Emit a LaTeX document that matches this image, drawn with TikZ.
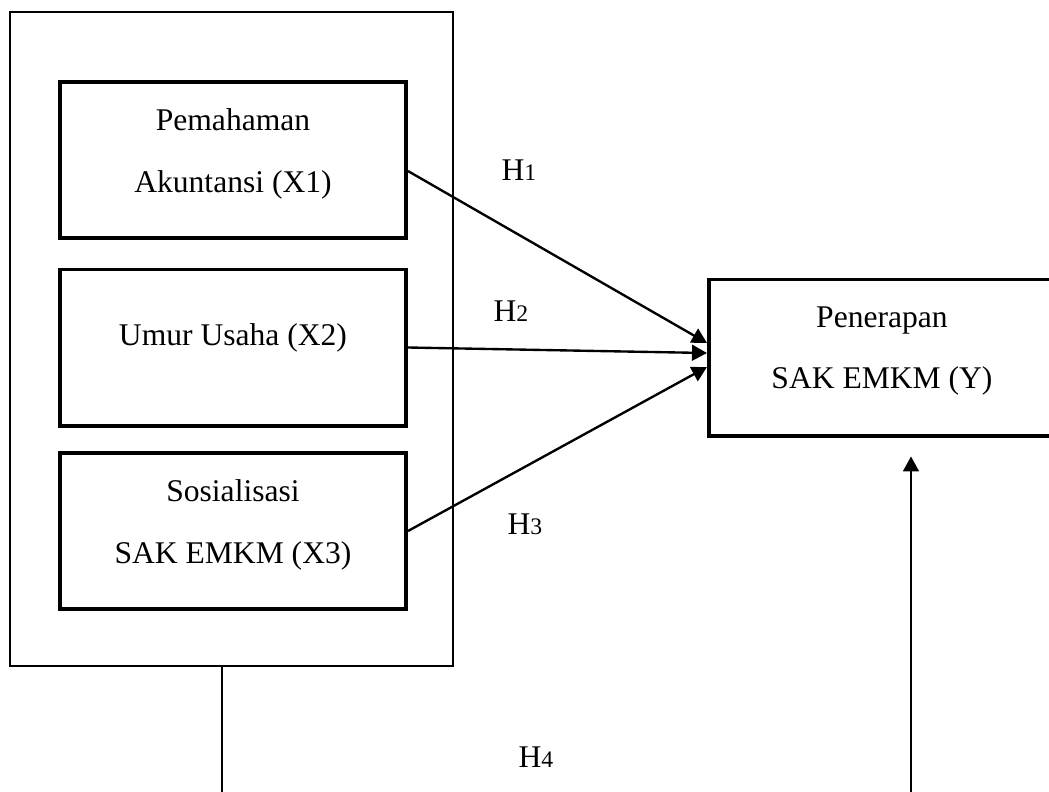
\documentclass[tikz,border=0pt]{standalone}
\usepackage{fontspec}
\setmainfont{Liberation Serif}
\usetikzlibrary{arrows.meta}

\begin{document}
\begin{tikzpicture}[
		x=0.38pt, y=-0.38pt,
		font=\fontsize{12}{23.5}\selectfont,
		grp/.style={rectangle, draw, line width=0.9pt, minimum width=168.3pt, minimum height=248.5pt},
		var/.style={rectangle, draw, line width=1.5pt, minimum width=131.5pt, minimum height=59.3pt, align=center, text depth=7.5pt},
		hyp/.style={inner sep=0pt},
		r/.style={-{Triangle[length=5.7pt, width=6pt]}, line width=0.9pt},
		ln/.style={line width=0.8pt}
		]
		\clip (0,0) rectangle (1049,792);
		\useasboundingbox (0,0) rectangle (1049,792);
		
		%Nodes
		\node[grp]	(grp1)	at (231.5, 339)	{};
		\node[var]	(x1)	at (233, 160)	{Pemahaman\\Akuntansi (X1)};
		\node[var, text depth=10pt]	(x2)	at (233, 347.5)	{Umur Usaha (X2)};
		\node[var]	(x3)	at (233, 531)	{Sosialisasi\\SAK EMKM (X3)};
		\node[var]	(y1)	at (882, 357.5)	{Penerapan\\SAK EMKM (Y)};
		\coordinate	(b1)	at (222, 800);
		\coordinate	(b2)	at (911, 800);
		
		\node[hyp]	(h1)	at (519, 170)	{H{\fontsize{9}{9}\selectfont 1}};
		\node[hyp]	(h2)	at (511, 311)	{H{\fontsize{9}{9}\selectfont 2}};
		\node[hyp]	(h3)	at (525, 524)	{H{\fontsize{9}{9}\selectfont 3}};
		\node[hyp]	(h4)	at (536, 757)	{H{\fontsize{9}{9}\selectfont 4}};
		
		%Lines
		\draw[r] ([yshift=-4.2pt]x1.east) -- ([yshift=5.5pt]y1.west);
		\draw[r] (x2.east) -- ([yshift=1.7pt]y1.west);
		\draw[r] (x3.east) -- ([yshift=-3.6pt]y1.west);
		
		\draw[ln] (b1 |- grp1.south) -- (b1);
		\draw[r, shorten >=7.2pt] (b2) -- (b2 |- y1.south);
		
\end{tikzpicture}
\end{document}
